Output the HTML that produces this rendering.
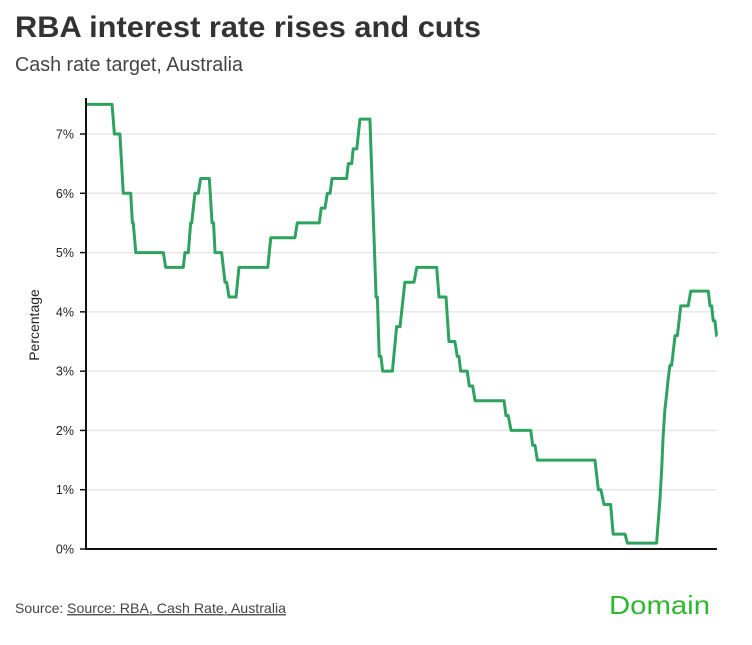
<!DOCTYPE html>
<html><head><meta charset="utf-8">
<style>
html,body{margin:0;padding:0;background:#fff;}
svg{display:block;font-family:"Liberation Sans",sans-serif;}
</style></head>
<body>
<svg id="chart" width="752" height="645" viewBox="0 0 752 645" xmlns="http://www.w3.org/2000/svg">
  <text x="15" y="37" font-size="30" font-weight="bold" fill="#333" textLength="466" lengthAdjust="spacingAndGlyphs">RBA interest rate rises and cuts</text>
  <text x="15" y="71" font-size="20" fill="#444" textLength="228" lengthAdjust="spacingAndGlyphs">Cash rate target, Australia</text>
  <g id="grid"></g>
  <g id="yaxis"></g>
  <text x="0" y="0" transform="translate(39,325) rotate(-90)" text-anchor="middle" font-size="14" fill="#222">Percentage</text>
  <g id="series"></g>
  <line x1="86" y1="98" x2="86" y2="550" stroke="#111" stroke-width="2"/>
  <line x1="85" y1="549" x2="717" y2="549" stroke="#111" stroke-width="2"/>
  <text x="15" y="613" font-size="14" fill="#444">Source: </text>
  <text x="67" y="613" font-size="14" fill="#444" text-decoration="underline" textLength="219" lengthAdjust="spacingAndGlyphs">Source: RBA, Cash Rate, Australia</text>
  <line x1="67" y1="615" x2="286" y2="615" stroke="#666" stroke-width="1"/>
  <text x="609" y="614" font-size="26" fill="#2eb82e" textLength="101" lengthAdjust="spacingAndGlyphs">Domain</text>
</svg>
<script>
const yTicks = [0, 1, 2, 3, 4, 5, 6, 7];
const yTickLabels = ["0%", "1%", "2%", "3%", "4%", "5%", "6%", "7%"];
const years = [1995.31,1996.54,1996.65,1996.91,1997.07,1997.42,1997.50,1997.54,1997.66,1998.96,1999.07,1999.90,1999.98,2000.14,2000.25,2000.30,2000.45,2000.61,2000.72,2001.13,2001.26,2001.33,2001.40,2001.71,2001.87,2001.95,2002.06,2002.39,2002.53,2003.89,2004.03,2005.17,2005.28,2006.32,2006.41,2006.59,2006.70,2006.83,2006.92,2007.61,2007.69,2007.85,2007.92,2008.09,2008.24,2008.71,2009.00,2009.06,2009.15,2009.23,2009.31,2009.77,2009.97,2010.13,2010.36,2010.79,2010.92,2011.86,2011.97,2012.30,2012.44,2012.72,2012.83,2012.91,2012.99,2013.30,2013.40,2013.56,2013.67,2015.04,2015.13,2015.24,2015.37,2016.30,2016.39,2016.50,2016.61,2019.33,2019.49,2019.61,2019.76,2020.07,2020.19,2020.75,2020.86,2022.24,2022.40,2022.48,2022.54,2022.63,2022.71,2022.78,2022.87,2022.95,2023.11,2023.22,2023.38,2023.73,2023.85,2024.68,2024.76,2024.84,2024.91,2024.99,2025.07,2025.09];
const rates = [7.5,7.5,7.0,7.0,6.0,6.0,5.5,5.5,5.0,5.0,4.75,4.75,5.0,5.0,5.5,5.5,6.0,6.0,6.25,6.25,5.5,5.5,5.0,5.0,4.5,4.5,4.25,4.25,4.75,4.75,5.25,5.25,5.5,5.5,5.75,5.75,6.0,6.0,6.25,6.25,6.5,6.5,6.75,6.75,7.25,7.25,4.25,4.25,3.25,3.25,3.0,3.0,3.75,3.75,4.5,4.5,4.75,4.75,4.25,4.25,3.5,3.5,3.25,3.25,3.0,3.0,2.75,2.75,2.5,2.5,2.25,2.25,2.0,2.0,1.75,1.75,1.5,1.5,1.0,1.0,0.75,0.75,0.25,0.25,0.1,0.1,0.85,1.35,1.85,2.35,2.6,2.85,3.1,3.1,3.6,3.6,4.1,4.1,4.35,4.35,4.1,4.1,3.85,3.85,3.6,3.6];
const xDomain = [1995.31, 2025.09];
const yDomain = [0, 7];

const NS = "http://www.w3.org/2000/svg";
const plot = {left: 86, right: 717, top: 134, bottom: 549};
function xScale(v){ return plot.left + (v - xDomain[0]) / (xDomain[1] - xDomain[0]) * (plot.right - plot.left); }
function yScale(v){ return plot.bottom - (v - yDomain[0]) / (yDomain[1] - yDomain[0]) * (plot.bottom - plot.top); }

const grid = document.getElementById('grid');
const yaxis = document.getElementById('yaxis');
yTicks.forEach((t, i) => {
  const y = yScale(t);
  if (t > 0) {
    const g = document.createElementNS(NS, 'line');
    g.setAttribute('x1', plot.left); g.setAttribute('x2', plot.right);
    g.setAttribute('y1', y); g.setAttribute('y2', y);
    g.setAttribute('stroke', '#e3e3e3'); g.setAttribute('stroke-width', '1.3');
    
    
    grid.appendChild(g);
  }
  const tk = document.createElementNS(NS, 'line');
  tk.setAttribute('x1', 80); tk.setAttribute('x2', 86);
  tk.setAttribute('y1', y); tk.setAttribute('y2', y);
  tk.setAttribute('stroke', '#111'); tk.setAttribute('stroke-width', '1.5');
  
  
  yaxis.appendChild(tk);
  const lb = document.createElementNS(NS, 'text');
  lb.setAttribute('x', 74); lb.setAttribute('y', y + 4.5);
  lb.setAttribute('text-anchor', 'end'); lb.setAttribute('font-size', '12.5');
  lb.setAttribute('fill', '#222');
  lb.textContent = yTickLabels[i];
  
  
  yaxis.appendChild(lb);
});

const pts = years.map((yr, i) => xScale(yr).toFixed(2) + ',' + yScale(rates[i]).toFixed(2)).join(' ');
const line = document.createElementNS(NS, 'polyline');
line.setAttribute('points', pts);
line.setAttribute('fill', 'none');
line.setAttribute('stroke', '#2ea35f');
line.setAttribute('stroke-width', '3');
line.setAttribute('stroke-linejoin', 'round');


document.getElementById('series').appendChild(line);
</script>
</body></html>
